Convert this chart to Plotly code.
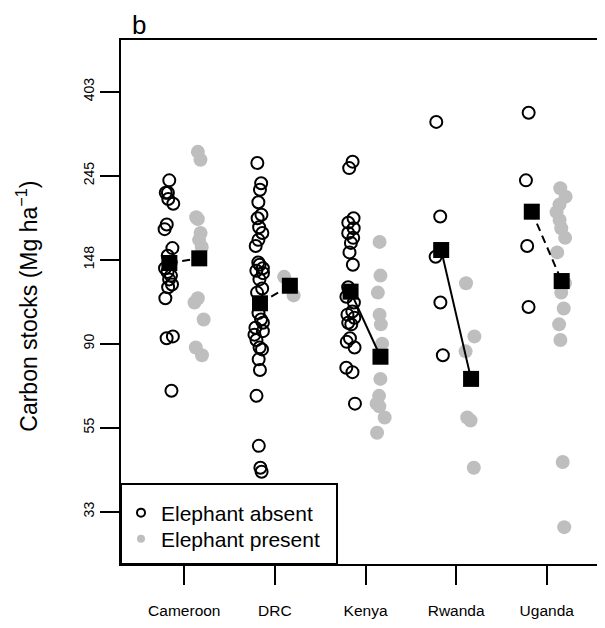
import numpy as np
import plotly.graph_objects as go

countries = ["Cameroon", "DRC", "Kenya", "Rwanda", "Uganda"]

# Carbon stocks (Mg/ha), elephant absent
cameroon_absent = [238, 221, 221, 213, 207, 183, 178, 159, 152, 146, 141, 138, 135, 132, 128, 126, 118, 94, 93, 68]
drc_absent = [264, 234, 225, 209, 194, 190, 180, 174, 167, 161, 146, 144, 141, 139, 137, 132, 125, 122,
              108, 104, 102, 99, 97, 95, 92, 88, 87, 82, 77, 66, 49, 43, 42]
kenya_absent = [266, 256, 190, 185, 179, 174, 169, 164, 155, 144, 126, 119, 115, 109, 107, 105, 102, 101,
                93, 91, 88, 78, 76, 63]
rwanda_absent = [337, 192, 151, 115, 84]
uganda_absent = [356, 238, 161, 112]

# Carbon stocks (Mg/ha), elephant present
cameroon_present = [282, 269, 191, 189, 174, 167, 160, 118, 115, 104, 88, 84]
drc_present = [134, 120]
kenya_present = [165, 135, 122, 107, 101, 90, 73, 66, 63, 62, 58, 53]
rwanda_present = [129, 94, 86, 58, 57, 43]
uganda_present = [227, 216, 206, 197, 188, 179, 169, 155, 129, 122, 111, 101, 92, 44.5, 30.2]

# group (geometric) means
means_absent = [145.5, 114.5, 122.7, 157.2, 197.5]
means_present = [149.6, 127.1, 83.3, 73.0, 130.7]
significant = [False, False, True, True, False]

# y axis ticks (natural-log spaced)
tick_logs = [3.5, 4.0, 4.5, 5.0, 5.5, 6.0]
tick_labels = ["33", "55", "90", "148", "245", "403"]

absent_groups = [cameroon_absent, drc_absent, kenya_absent, rwanda_absent, uganda_absent]
present_groups = [cameroon_present, drc_present, kenya_present, rwanda_present, uganda_present]

OFF = 0.165
GRAY = "#BEBEBE"
FONT = "Liberation Sans, Arial, sans-serif"
PW, PH = 484, 524  # plot area size in px

fig = go.Figure()

xa, ya = [], []
for i, vals in enumerate(absent_groups):
    xa += [i + 1 - OFF] * len(vals)
    ya += vals
xp, yp = [], []
for i, vals in enumerate(present_groups):
    xp += [i + 1 + OFF] * len(vals)
    yp += vals

box_common = dict(boxpoints="all", jitter=1, pointpos=0, width=0.13,
                  line=dict(color="rgba(0,0,0,0)"), fillcolor="rgba(0,0,0,0)",
                  showlegend=False, hoveron="points")

fig.add_trace(go.Box(x=xa, y=ya, name="absent",
                     marker=dict(symbol="circle-open", size=12, color="black",
                                 line=dict(width=2, color="black")), **box_common))
fig.add_trace(go.Box(x=xp, y=yp, name="present",
                     marker=dict(symbol="circle", size=14, color=GRAY,
                                 line=dict(width=0)), **box_common))

for i in range(len(countries)):
    fig.add_trace(go.Scatter(
        x=[i + 1 - OFF, i + 1 + OFF], y=[means_absent[i], means_present[i]],
        mode="lines", line=dict(color="black", width=2,
                                dash="solid" if significant[i] else "8px,5px"),
        showlegend=False, hoverinfo="skip"))

fig.add_trace(go.Scatter(
    x=[i + 1 - OFF for i in range(len(countries))] + [i + 1 + OFF for i in range(len(countries))],
    y=means_absent + means_present, mode="markers",
    marker=dict(symbol="square", size=16, color="black"), showlegend=False))

# legend entries
fig.add_trace(go.Scatter(x=[None], y=[None], mode="markers", name="Elephant absent", legend="legend",
                         marker=dict(symbol="circle-open", size=8, color="black", line=dict(width=2))))
fig.add_trace(go.Scatter(x=[None], y=[None], mode="markers", name="Elephant present", legend="legend2",
                         marker=dict(symbol="circle", size=8, color=GRAY)))

leg_common = dict(x=0, xanchor="left", yanchor="middle", bgcolor="rgba(0,0,0,0)",
                  borderwidth=0, font=dict(size=21, family=FONT), itemsizing="trace")

fig.update_layout(
    width=597, height=620,
    margin=dict(l=113, r=0, t=32, b=64),
    paper_bgcolor="white", plot_bgcolor="white",
    font=dict(family=FONT, color="black"),
    boxmode="overlay",
    legend=dict(y=(564 - 513) / PH, **leg_common),
    legend2=dict(y=(564 - 539) / PH, **leg_common),
    xaxis=dict(range=[0.3013, 5.643], tickmode="array", tickvals=[1, 2, 3, 4, 5],
               ticktext=countries, ticks="outside", ticklen=19, tickwidth=2, tickcolor="black",
               showline=True, linewidth=2, linecolor="black", mirror=True,
               showgrid=False, zeroline=False, tickfont=dict(size=15.5),
               ticklabelstandoff=12),
    yaxis=dict(type="log", range=[1.3848, 2.7394], tickmode="array",
               tickvals=list(np.exp(tick_logs)), ticktext=tick_labels, tickangle=-90,
               ticks="outside", ticklen=19, tickwidth=2, tickcolor="black",
               showline=True, linewidth=2, linecolor="black", mirror=False,
               showgrid=False, zeroline=False, tickfont=dict(size=14)),
    shapes=[dict(type="rect", xref="paper", yref="paper", x0=0, x1=(337 - 121) / PW,
                 y0=0, y1=(564 - 484) / PH, line=dict(color="black", width=2),
                 fillcolor="white", layer="below")],
    annotations=[
        dict(text="Carbon stocks (Mg ha<sup>\u22121</sup>)", xref="paper", yref="paper",
             x=-(121 - 27) / PW, y=0.491, xanchor="center", yanchor="middle",
             textangle=-90, showarrow=False, font=dict(size=23)),
        dict(text="b", xref="paper", yref="paper", x=(139 - 121) / PW, y=1 + (40 - 25) / PH,
             xanchor="center", yanchor="middle", showarrow=False, font=dict(size=26),
             borderpad=0),
    ],
)

fig.write_html("out.html")
